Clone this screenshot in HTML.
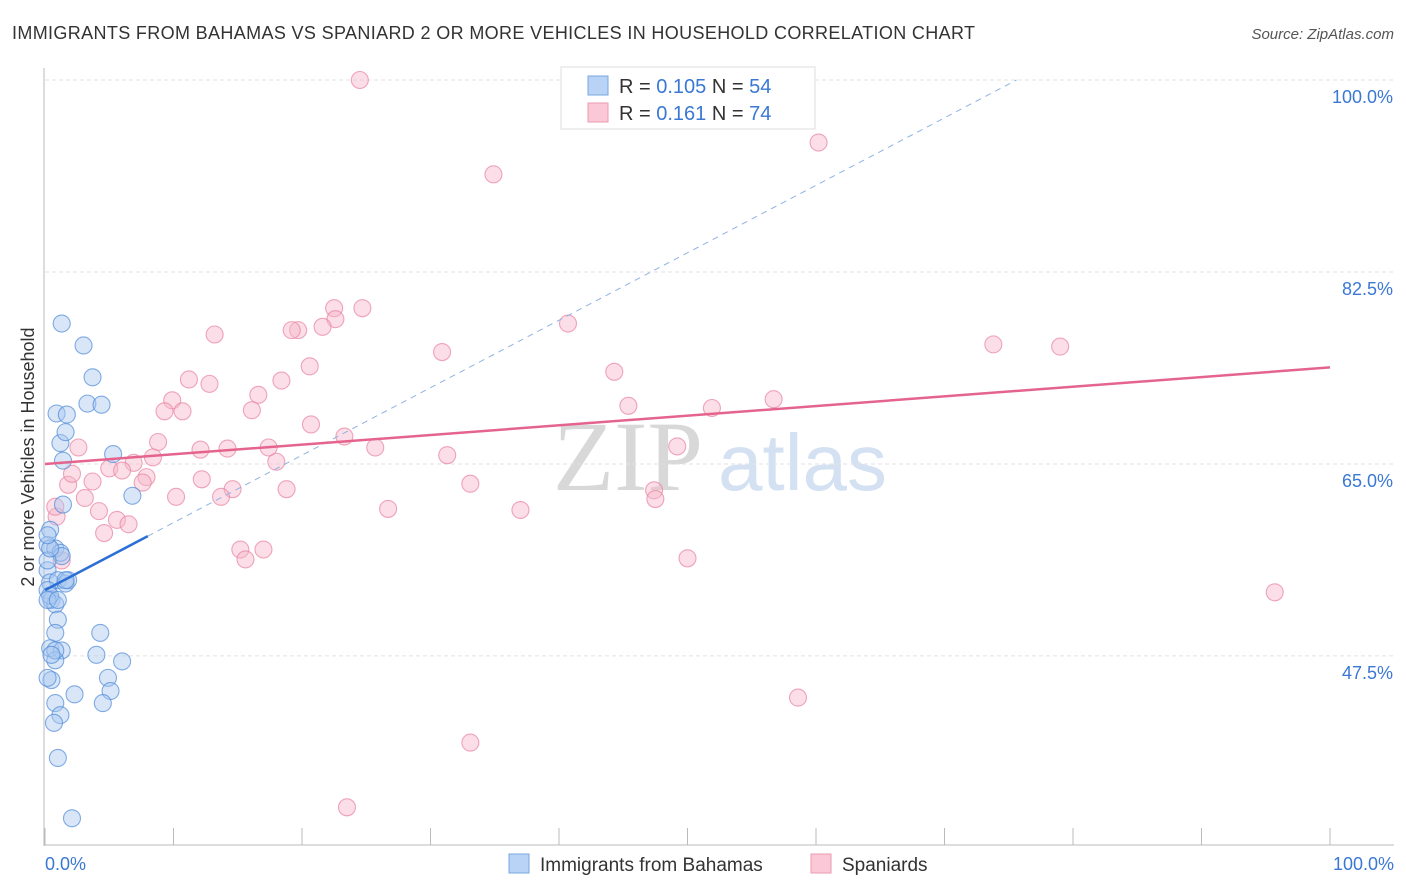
<!DOCTYPE html>
<html><head><meta charset="utf-8"><style>
body{margin:0;background:#fff;font-family:"Liberation Sans",sans-serif;}
svg{display:block}
</style></head><body>
<svg id="chart" width="1406" height="892" xmlns="http://www.w3.org/2000/svg">
<text x="12" y="39" font-size="18" fill="#333" textLength="963" font-family="Liberation Sans, sans-serif">IMMIGRANTS FROM BAHAMAS VS SPANIARD 2 OR MORE VEHICLES IN HOUSEHOLD CORRELATION CHART</text>
<text x="1394" y="39" font-size="15" fill="#555" font-style="italic" text-anchor="end">Source: ZipAtlas.com</text>
<text x="553" y="490" font-size="100" fill="#d8d8d8" font-family="Liberation Serif, serif">ZIP</text>
<text x="718" y="490" font-size="80" fill="#d3e1f2" font-family="Liberation Sans, sans-serif">atlas</text>
<g id="grid"></g>
<g id="axes"></g>
<g id="pts"></g>
<g id="trends"></g>
<text transform="translate(34,457) rotate(-90)" text-anchor="middle" font-size="18" fill="#333">2 or more Vehicles in Household</text>
<g>
<rect x="561" y="67" width="254" height="62" fill="#fff" stroke="#ddd"/>
<rect x="588" y="76" width="20" height="19" fill="#b8d3f5" stroke="#7aa7e0"/>
<rect x="588" y="103" width="20" height="19" fill="#fac8d6" stroke="#ec9ab3"/>
<text x="619" y="93" font-size="20" fill="#333">R = <tspan fill="#3a78d4">0.105</tspan>   N = <tspan fill="#3a78d4">54</tspan></text>
<text x="619" y="120" font-size="20" fill="#333">R =  <tspan fill="#3a78d4">0.161</tspan>   N = <tspan fill="#3a78d4">74</tspan></text>
</g>
<g>
<rect x="509" y="854" width="20" height="19" fill="#b8d3f5" stroke="#7aa7e0"/>
<text x="540" y="871" font-size="19" fill="#333">Immigrants from Bahamas</text>
<rect x="811" y="854" width="20" height="19" fill="#fac8d6" stroke="#ec9ab3"/>
<text x="842" y="871" font-size="19" fill="#333">Spaniards</text>
</g>
</svg>
<script>
const yTicks=[47.5,65.0,82.5,100.0];
const yTickLabels=["47.5%","65.0%","82.5%","100.0%"];
const xTickLabels=["0.0%","100.0%"];
const blueX=[1.3,3.0,3.7,3.3,4.4,0.9,1.7,1.2,1.6,1.4,5.3,6.8,1.4,0.4,0.2,0.8,1.2,1.3,0.2,0.4,1.0,1.6,1.8,0.2,0.5,0.8,1.0,0.8,4.3,0.4,1.3,4.0,6.0,0.8,0.5,0.2,4.9,5.1,2.3,4.5,0.8,1.2,0.7,1.0,2.1,0.2,0.4,0.8,0.2,1.0,0.4,1.6,0.5,0.2];
const blueY=[77.8,75.8,72.9,70.5,70.4,69.6,69.5,66.9,67.9,65.3,65.9,62.1,61.3,59.0,57.6,57.3,56.9,56.6,55.3,54.2,54.4,54.1,54.4,53.5,52.6,52.2,50.8,49.6,49.6,48.2,48.0,47.6,47.0,47.1,45.3,45.5,45.5,44.3,44.0,43.2,43.2,42.1,41.4,38.2,32.7,56.2,53.0,48.0,52.6,52.6,57.3,54.4,47.6,58.5];
const pinkX=[24.5,34.9,60.2,40.7,44.3,45.4,51.9,56.7,73.8,79.0,95.7,58.6,33.1,23.5,50.0,47.4,47.5,49.2,37.0,33.1,31.3,30.9,25.7,23.3,26.7,24.7,22.5,22.6,21.6,19.7,19.2,20.6,20.7,18.4,16.6,16.1,18.8,18.0,17.4,14.2,14.6,13.7,12.8,13.2,11.2,9.9,10.7,9.3,8.8,8.4,6.9,5.0,6.0,7.9,7.6,3.7,3.1,1.8,2.1,2.6,4.2,5.6,6.5,4.6,0.9,1.3,10.2,12.2,15.2,15.6,17.0,12.1,0.8,49.6];
const pinkY=[100,91.4,94.3,77.8,73.4,70.3,70.1,70.9,75.9,75.7,53.3,43.7,39.6,33.7,56.4,62.6,61.8,66.6,60.8,63.2,65.8,75.2,66.5,67.5,60.9,79.2,79.2,78.2,77.5,77.2,77.2,73.9,68.6,72.6,71.3,69.9,62.7,65.2,66.5,66.4,62.7,62.0,72.3,76.8,72.7,70.8,69.8,69.8,67.0,65.6,65.1,64.6,64.4,63.8,63.3,63.4,61.9,63.1,64.1,66.5,60.7,59.9,59.5,58.7,60.2,56.2,62.0,63.6,57.2,56.3,57.2,66.3,61.1,100];
const blueTrend=[53.5,0.615];   // intercept, slope
const pinkTrend=[65.0,0.088];
const NS="http://www.w3.org/2000/svg";
const X0=45,X1=1330,YTOP=80,PPU=10.97;
const sx=v=>X0+(X1-X0)*v/100;
const sy=v=>YTOP+(100-v)*PPU;
function mk(tag,attrs,parent){const e=document.createElementNS(NS,tag);for(const k in attrs)e.setAttribute(k,attrs[k]);parent.appendChild(e);return e;}
const grid=document.getElementById('grid'),axes=document.getElementById('axes');
yTicks.forEach((t,i)=>{
  const l=mk('line',{x1:45,x2:1394,y1:sy(t),y2:sy(t),stroke:'#e2e2e2','stroke-dasharray':'4,3'},grid);
  
  
  const tx=mk('text',{x:1393,y:sy(t)+23,'text-anchor':'end','font-size':18,fill:'#3a78d4'},axes);
  tx.textContent=yTickLabels[i];
  
  
});
const ya=mk('line',{x1:44,x2:44,y1:68,y2:846,stroke:'#bbb'},axes);


const xa=mk('line',{x1:44,x2:1394,y1:845,y2:845,stroke:'#bbb'},axes);


for(let i=0;i<=10;i++){
  const t=mk('line',{x1:sx(i*10),x2:sx(i*10),y1:828,y2:845,stroke:'#bbb'},axes);
  
  
}
[[0,'start',45],[1,'end',1394]].forEach(([i,a,x])=>{
  const t=mk('text',{x:x,y:870,'text-anchor':a,'font-size':18,fill:'#3a78d4'},axes);
  t.textContent=xTickLabels[i];
  
  
});
const pts=document.getElementById('pts');
function dots(xs,ys,fill,stroke,name){
  xs.forEach((x,i)=>{
    const c=mk('circle',{cx:sx(x),cy:sy(ys[i]),r:8.5,fill:fill,'fill-opacity':0.45,stroke:stroke,'stroke-opacity':0.7,'stroke-width':1.1},pts);
    
    
  });
}
dots(pinkX,pinkY,'#f7b6c9','#e8819f','spaniards-point');
dots(blueX,blueY,'#a9c8f0','#4f8ad8','bahamas-point');
const tr=document.getElementById('trends');
const bEnd=8, bDashEnd=(100-blueTrend[0])/blueTrend[1];
const bd=mk('line',{x1:sx(bEnd),y1:sy(blueTrend[0]+blueTrend[1]*bEnd),x2:sx(bDashEnd),y2:sy(100),stroke:'#8fb3e3','stroke-dasharray':'6,5','stroke-width':1},tr);


const bs=mk('line',{x1:sx(0),y1:sy(blueTrend[0]),x2:sx(bEnd),y2:sy(blueTrend[0]+blueTrend[1]*bEnd),stroke:'#2b6fd6','stroke-width':2.5},tr);


const ps=mk('line',{x1:sx(0),y1:sy(pinkTrend[0]),x2:sx(100),y2:sy(pinkTrend[0]+pinkTrend[1]*100),stroke:'#e5648e','stroke-width':2.5},tr);


</script>
</body></html>
